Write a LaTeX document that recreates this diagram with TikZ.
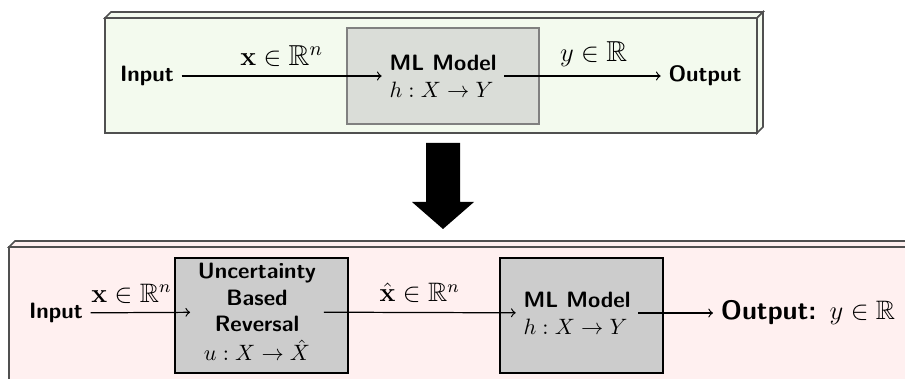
\documentclass[tikz,border=0pt]{standalone}
\usepackage{amsmath,amssymb}
\usepackage{tikz}
\definecolor{topfill}{RGB}{243,250,238}
\definecolor{botfill}{RGB}{255,240,240}
\definecolor{edgegray}{RGB}{80,80,80}
\definecolor{mlgray}{RGB}{218,221,216}

\begin{document}
\begin{tikzpicture}[x=0.45pt, y=-0.45pt,
    panel/.style={draw=edgegray, line width=0.7pt},
    block/.style={rectangle, draw, line width=0.6pt, inner sep=0pt},
    txt/.style={font=\sffamily\bfseries, align=center},
    conn/.style={->, line width=0.55pt},
    lbl/.style={font=\large, above, inner sep=4pt}]
  \useasboundingbox (0,0) rectangle (905,379);
  \clip (0,0) rectangle (905,379);

  % top panel: single model
  \filldraw[panel, fill=topfill] (105,18) -- (111,12) -- (763,12) -- (757,18) -- cycle;
  \filldraw[panel, fill=topfill] (757,18) -- (763,12) -- (763,127) -- (757,133) -- cycle;
  \filldraw[panel, fill=topfill] (105,18) rectangle (757,133);
  \node[block, draw=gray, fill=mlgray, minimum width=86.4pt, minimum height=43.2pt] (mlbox1) at (443,76) {};
  \node[txt, align=left] (ml1) at (443,76) {ML Model\\ \mdseries$h : X \to Y$};
  \node[txt] (in1) at (147,76) {Input};
  \node[txt] (out1) at (705,76) {Output};
  \draw[conn] (in1) -- (ml1) node[lbl, font=\fontsize{13}{15}\selectfont, midway] {$\mathbf{x} \in \mathbb{R}^n$};
  \draw[conn] (ml1) -- (out1) node[lbl, font=\fontsize{13}{15}\selectfont, midway, xshift=5pt] {$y \in \mathbb{R}$};

  % big arrow
  \fill (426,143) -- (460,143) -- (460,202) -- (474,202) -- (443,229) -- (412,202) -- (426,202) -- cycle;

  % bottom panel: with reversal
  \filldraw[panel, fill=botfill] (9,247) -- (15,241) -- (930,241) -- (924,247) -- cycle;
  \filldraw[panel, fill=botfill] (9,247) rectangle (924,400);
  \node[block, fill=black!20, minimum width=77.85pt, minimum height=51.75pt] (ubbox) at (261.5,315.5) {};
  \node[txt] (ub) at (257,312) {Uncertainty\\ Based\\ Reversal\\[1pt] \mdseries$u : X \to \hat{X}$};
  \node[block, fill=black!20, minimum width=73.35pt, minimum height=51.75pt] (mlbox2) at (581.5,315.5) {};
  \node[txt, align=left] (ml2) at (577,313) {ML Model\\ \mdseries$h : X \to Y$};
  \node[txt] (in2) at (56,313) {Input};
  \node[txt, font=\large\sffamily\bfseries, anchor=west] (out2) at (713,313) {Output: \mdseries$y \in \mathbb{R}$};
  \draw[conn] (in2) -- (ub) node[lbl, midway, xshift=-4pt] {$\mathbf{x} \in \mathbb{R}^n$};
  \draw[conn] (ub) -- (ml2) node[lbl, midway] {$\hat{\mathbf{x}} \in \mathbb{R}^n$};
  \draw[conn] (ml2) -- (out2);
\end{tikzpicture}
\end{document}
